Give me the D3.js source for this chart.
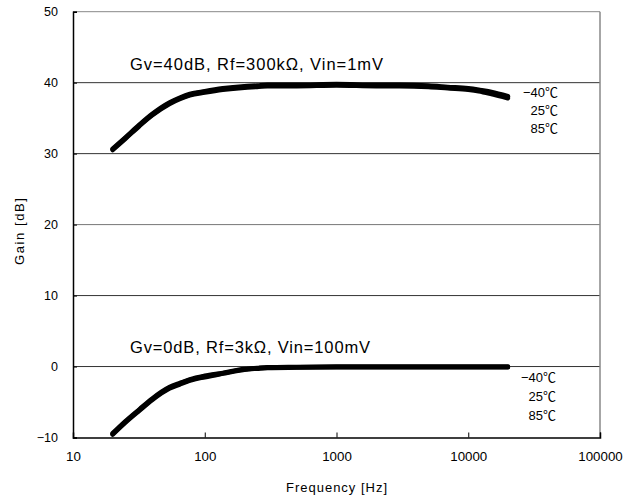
<!DOCTYPE html>
<html><head><meta charset="utf-8">
<script src="https://cdn.jsdelivr.net/npm/d3@7"></script>
<style>
html,body{margin:0;padding:0;background:#fff;}
svg{display:block;}
text{font-family:"Liberation Sans",Arial,"Noto Sans CJK JP",sans-serif;fill:#000;}
</style></head>
<body><svg id="c" width="637" height="497"></svg>
<script>
const freqs = [20, 25, 32, 40, 54, 65, 77, 100, 137, 200, 250, 300, 500, 1000, 2000, 3000, 5000, 7000, 10000, 12000, 15000, 20000];
const gain40_m40 = [30.7, 32.3, 34.1, 35.6, 37.2, 37.9, 38.4, 38.8, 39.2, 39.5, 39.6, 39.7, 39.7, 39.8, 39.7, 39.7, 39.6, 39.4, 39.2, 39.0, 38.7, 38.1];
const gain40_25  = [30.6, 32.2, 34.0, 35.5, 37.1, 37.8, 38.3, 38.7, 39.1, 39.4, 39.5, 39.6, 39.6, 39.7, 39.6, 39.6, 39.5, 39.3, 39.1, 38.9, 38.6, 38.0];
const gain40_85  = [30.5, 32.1, 33.9, 35.4, 37.0, 37.7, 38.2, 38.6, 39.0, 39.3, 39.4, 39.5, 39.5, 39.6, 39.5, 39.5, 39.4, 39.2, 39.0, 38.8, 38.4, 37.8];
const gain0_m40  = [-9.4, -7.7, -6.0, -4.5, -2.9, -2.3, -1.8, -1.3, -0.9, -0.35, -0.2, -0.1, -0.05, 0.0, 0.0, 0.0, 0.0, 0.0, 0.0, 0.0, 0.0, 0.0];
const gain0_25   = [-9.5, -7.8, -6.1, -4.6, -3.0, -2.4, -1.9, -1.4, -0.95, -0.4, -0.25, -0.15, -0.1, -0.05, -0.05, -0.05, -0.05, -0.05, -0.05, -0.05, -0.05, -0.05];
const gain0_85   = [-9.6, -7.9, -6.2, -4.7, -3.1, -2.5, -2.0, -1.5, -1.0, -0.45, -0.3, -0.2, -0.15, -0.1, -0.1, -0.1, -0.1, -0.1, -0.1, -0.1, -0.1, -0.1];
const xTicks = [10, 100, 1000, 10000, 100000];
const yTicks = [-10, 0, 10, 20, 30, 40, 50];
const tempLabels = ["\u221240\u2103", "25\u2103", "85\u2103"];
const title40 = "Gv=40dB, Rf=300k\u03A9, Vin=1mV";
const title0 = "Gv=0dB, Rf=3k\u03A9, Vin=100mV";

const svg = d3.select("#c");
const L = 73, R = 600, T = 11.7, B = 437.5;
const x = d3.scaleLog().domain([10, 100000]).range([L, R]);
const y = d3.scaleLinear().domain([-10, 50]).range([B, T]);

// gridlines
svg.append("g").selectAll("line").data(yTicks.filter(d => d > -10 && d < 50)).join("line")
  .attr("x1", L).attr("x2", R).attr("y1", d => y(d)).attr("y2", d => y(d))
  .attr("stroke", d => d === 20 ? "#777" : "#333").attr("stroke-width", 1);

// frame top/right
svg.append("line").attr("x1", L).attr("x2", R).attr("y1", T).attr("y2", T).attr("stroke", "#888");
svg.append("line").attr("x1", R).attr("x2", R).attr("y1", T).attr("y2", B).attr("stroke", "#888").attr("stroke-width", 1.5);

// axes
const xAxis = d3.axisBottom(x).tickValues(xTicks).tickSize(-5).tickPadding(14).tickFormat(d3.format("d"));
const gx = svg.append("g").attr("transform", `translate(0,${B})`).call(xAxis);
gx.select(".domain").attr("stroke", "#000").attr("stroke-width", 1.5);
gx.selectAll(".tick line").attr("stroke", "#000");
gx.selectAll("text").attr("font-size", 13.3).attr("font-family", "'Liberation Sans',Arial,sans-serif");

const yAxis = d3.axisLeft(y).tickValues(yTicks).tickSize(-4).tickPadding(15)
  .tickFormat(d => d < 0 ? "\u2212" + Math.abs(d) : d);
const gy = svg.append("g").attr("transform", `translate(${L},0)`).call(yAxis);
gy.select(".domain").attr("stroke", "#000").attr("stroke-width", 1.5);
gy.selectAll(".tick line").attr("stroke", "#000");
gy.selectAll("text").attr("font-size", 12.5).attr("font-family", "'Liberation Sans',Arial,sans-serif");

// curves
const line = d3.line().x((d, i) => x(freqs[i])).y(d => y(d)).curve(d3.curveMonotoneX);
[gain40_m40, gain40_25, gain40_85, gain0_m40, gain0_25, gain0_85].forEach(s => {
  svg.append("path").attr("d", line(s)).attr("fill", "none").attr("stroke", "#000")
    .attr("stroke-width", 4.5).attr("stroke-linecap", "round").attr("stroke-linejoin", "round");
});

// annotations
svg.append("text").attr("x", 130).attr("y", 70).attr("font-size", 16.5)
  .attr("textLength", 253).attr("lengthAdjust", "spacing").text(title40);
svg.append("text").attr("x", 130).attr("y", 353).attr("font-size", 16.5)
  .attr("textLength", 240).attr("lengthAdjust", "spacing").text(title0);

const tempY40 = [97, 115, 133];
const tempY0 = [382, 401, 420];
tempLabels.forEach((t, i) => {
  svg.append("text").attr("x", 558).attr("y", tempY40[i]).attr("text-anchor", "end").attr("font-size", 13).text(t);
  svg.append("text").attr("x", 556).attr("y", tempY0[i]).attr("text-anchor", "end").attr("font-size", 13).text(t);
});

// axis titles
svg.append("text").attr("x", 286).attr("y", 492).attr("font-size", 13)
  .attr("textLength", 101).attr("lengthAdjust", "spacing").text("Frequency [Hz]");
svg.append("text").attr("transform", "translate(24,265) rotate(-90)").attr("font-size", 13)
  .attr("textLength", 67).attr("lengthAdjust", "spacing").text("Gain [dB]");
</script></body></html>
